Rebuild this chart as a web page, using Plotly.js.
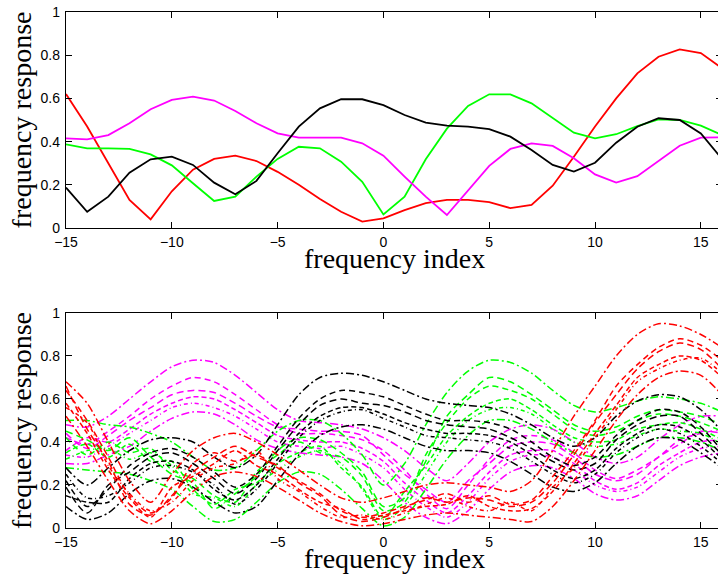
<!DOCTYPE html>
<html><head><meta charset="utf-8">
<script src="https://cdn.plot.ly/plotly-3.0.1.min.js"></script>
<style>html,body{margin:0;padding:0;overflow:hidden;background:#fff;}#chart{width:722px;height:577px;}</style>
</head><body><div id="chart"></div>
<script>
// frequency index
const freqIndex = [-15,-14,-13,-12,-11,-10,-9,-8,-7,-6,-5,-4,-3,-2,-1,0,1,2,3,4,5,6,7,8,9,10,11,12,13,14,15,16];
const tickVals = [-15,-10,-5,0,5,10,15];
const yTickVals = [0,0.2,0.4,0.6,0.8,1];
const yTickText = ["0","0.2","0.4","0.6","0.8","1"];
const xTitle = 'frequency index';
const yTitle = 'frequency response';

// top panel: true responses
const redTrue     = [0.62,0.47,0.30,0.13,0.04,0.17,0.27,0.32,0.335,0.31,0.26,0.20,0.134,0.075,0.03,0.045,0.083,0.115,0.13,0.13,0.12,0.092,0.107,0.196,0.33,0.47,0.60,0.716,0.793,0.827,0.81,0.74];
const greenTrue   = [0.387,0.369,0.369,0.366,0.341,0.29,0.207,0.125,0.145,0.238,0.32,0.376,0.369,0.307,0.214,0.063,0.145,0.318,0.46,0.565,0.619,0.619,0.577,0.508,0.441,0.415,0.434,0.472,0.503,0.5,0.474,0.43];
const magentaTrue = [0.415,0.41,0.43,0.485,0.55,0.593,0.608,0.59,0.542,0.485,0.438,0.418,0.418,0.418,0.392,0.335,0.238,0.145,0.06,0.176,0.288,0.366,0.392,0.38,0.323,0.248,0.21,0.24,0.312,0.381,0.418,0.42];
const blackTrue   = [0.187,0.075,0.145,0.256,0.318,0.33,0.292,0.21,0.156,0.218,0.346,0.469,0.554,0.596,0.596,0.569,0.523,0.488,0.474,0.469,0.458,0.423,0.361,0.292,0.261,0.302,0.395,0.469,0.508,0.5,0.438,0.32];

// bottom panel: estimated responses
const redEst1 = [0.68,0.58,0.40,0.22,0.12,0.25,0.36,0.42,0.44,0.40,0.34,0.27,0.20,0.14,0.12,0.14,0.17,0.20,0.21,0.20,0.19,0.17,0.22,0.36,0.52,0.66,0.80,0.90,0.95,0.94,0.90,0.84];
const redEst2 = [0.52,0.38,0.22,0.08,0.02,0.08,0.17,0.24,0.26,0.24,0.19,0.13,0.07,0.03,0.01,0.02,0.04,0.06,0.07,0.06,0.05,0.04,0.03,0.10,0.22,0.36,0.50,0.62,0.70,0.73,0.71,0.62];
const redEst3 = [0.64,0.50,0.33,0.15,0.07,0.14,0.30,0.35,0.31,0.34,0.28,0.22,0.16,0.08,0.05,0.07,0.10,0.13,0.16,0.12,0.15,0.11,0.13,0.24,0.36,0.50,0.66,0.76,0.84,0.88,0.85,0.78];
const redEst4 = [0.58,0.44,0.27,0.14,0.05,0.19,0.24,0.30,0.36,0.29,0.25,0.18,0.12,0.09,0.04,0.06,0.08,0.10,0.11,0.15,0.10,0.08,0.09,0.17,0.30,0.44,0.57,0.70,0.76,0.80,0.78,0.70];
const redEst5 = [0.66,0.46,0.31,0.11,0.06,0.15,0.26,0.33,0.38,0.33,0.29,0.21,0.15,0.06,0.03,0.05,0.09,0.14,0.12,0.14,0.13,0.10,0.12,0.21,0.34,0.49,0.62,0.74,0.82,0.86,0.83,0.74];
const redEst6 = [0.56,0.49,0.29,0.16,0.08,0.12,0.22,0.28,0.30,0.36,0.23,0.17,0.10,0.05,0.06,0.04,0.07,0.11,0.14,0.10,0.08,0.12,0.08,0.19,0.28,0.42,0.55,0.68,0.74,0.78,0.79,0.72];

const greenEst1 = [0.50,0.50,0.48,0.47,0.44,0.40,0.33,0.27,0.28,0.36,0.45,0.50,0.50,0.44,0.34,0.20,0.30,0.48,0.63,0.73,0.78,0.77,0.72,0.64,0.57,0.54,0.56,0.59,0.61,0.60,0.58,0.54];
const greenEst2 = [0.28,0.27,0.26,0.25,0.22,0.18,0.10,0.03,0.04,0.12,0.21,0.26,0.25,0.18,0.09,0.01,0.05,0.18,0.32,0.43,0.50,0.50,0.46,0.40,0.35,0.33,0.34,0.38,0.42,0.42,0.40,0.36];
const greenEst3 = [0.42,0.34,0.40,0.35,0.37,0.27,0.23,0.15,0.12,0.26,0.34,0.40,0.35,0.33,0.24,0.08,0.12,0.34,0.49,0.60,0.66,0.64,0.60,0.53,0.46,0.43,0.45,0.50,0.53,0.52,0.49,0.45];
const greenEst4 = [0.35,0.39,0.33,0.39,0.31,0.31,0.18,0.11,0.18,0.21,0.30,0.35,0.38,0.28,0.19,0.05,0.17,0.29,0.43,0.52,0.58,0.60,0.55,0.48,0.42,0.40,0.41,0.46,0.48,0.49,0.46,0.41];
const greenEst5 = [0.45,0.41,0.36,0.42,0.33,0.25,0.21,0.09,0.16,0.24,0.36,0.42,0.41,0.35,0.26,0.10,0.14,0.31,0.52,0.62,0.70,0.68,0.62,0.55,0.48,0.45,0.47,0.52,0.55,0.54,0.52,0.48];
const greenEst6 = [0.32,0.36,0.37,0.32,0.35,0.29,0.16,0.14,0.10,0.20,0.27,0.33,0.36,0.30,0.18,0.04,0.10,0.25,0.40,0.50,0.55,0.56,0.53,0.46,0.40,0.38,0.39,0.43,0.46,0.45,0.44,0.39];

const magentaEst1 = [0.48,0.47,0.52,0.60,0.68,0.75,0.78,0.77,0.71,0.63,0.55,0.50,0.49,0.48,0.46,0.42,0.36,0.28,0.22,0.30,0.40,0.46,0.48,0.46,0.40,0.33,0.30,0.33,0.41,0.48,0.52,0.52];
const magentaEst2 = [0.30,0.30,0.34,0.38,0.45,0.51,0.54,0.53,0.48,0.41,0.37,0.35,0.34,0.33,0.30,0.22,0.12,0.05,0.02,0.08,0.18,0.26,0.29,0.28,0.23,0.16,0.13,0.15,0.22,0.29,0.33,0.35];
const magentaEst3 = [0.42,0.39,0.45,0.52,0.60,0.66,0.70,0.68,0.62,0.55,0.48,0.44,0.44,0.43,0.41,0.36,0.27,0.16,0.09,0.20,0.32,0.41,0.43,0.41,0.35,0.27,0.23,0.27,0.33,0.41,0.44,0.46];
const magentaEst4 = [0.36,0.42,0.40,0.46,0.53,0.58,0.61,0.60,0.55,0.49,0.43,0.41,0.40,0.40,0.37,0.31,0.21,0.13,0.07,0.15,0.26,0.34,0.36,0.36,0.30,0.22,0.18,0.21,0.29,0.35,0.40,0.41];
const magentaEst5 = [0.44,0.37,0.43,0.50,0.56,0.62,0.64,0.63,0.58,0.52,0.47,0.46,0.45,0.45,0.43,0.34,0.25,0.18,0.12,0.22,0.30,0.38,0.40,0.39,0.33,0.25,0.22,0.25,0.33,0.39,0.45,0.44];
const magentaEst6 = [0.34,0.33,0.38,0.44,0.50,0.56,0.58,0.56,0.52,0.46,0.40,0.38,0.37,0.38,0.34,0.28,0.18,0.10,0.05,0.12,0.23,0.31,0.34,0.33,0.27,0.20,0.17,0.19,0.26,0.33,0.37,0.38];

const blackEst1 = [0.28,0.20,0.28,0.36,0.41,0.42,0.40,0.33,0.28,0.34,0.48,0.62,0.70,0.72,0.71,0.68,0.64,0.60,0.58,0.57,0.56,0.53,0.48,0.42,0.38,0.42,0.52,0.59,0.62,0.61,0.55,0.45];
const blackEst2 = [0.10,0.04,0.07,0.16,0.22,0.23,0.19,0.12,0.07,0.10,0.22,0.34,0.43,0.47,0.48,0.46,0.42,0.38,0.36,0.36,0.35,0.31,0.25,0.19,0.17,0.21,0.30,0.38,0.42,0.41,0.35,0.28];
const blackEst3 = [0.22,0.10,0.18,0.29,0.35,0.37,0.33,0.26,0.19,0.25,0.38,0.51,0.60,0.64,0.63,0.61,0.57,0.53,0.50,0.50,0.49,0.46,0.40,0.33,0.29,0.33,0.43,0.50,0.55,0.54,0.47,0.36];
const blackEst4 = [0.15,0.12,0.12,0.23,0.30,0.31,0.27,0.18,0.13,0.20,0.32,0.44,0.52,0.56,0.56,0.53,0.49,0.46,0.44,0.44,0.43,0.40,0.34,0.27,0.23,0.27,0.37,0.44,0.48,0.47,0.41,0.32];
const blackEst5 = [0.19,0.07,0.20,0.26,0.33,0.35,0.30,0.23,0.16,0.23,0.36,0.48,0.57,0.60,0.58,0.57,0.54,0.50,0.48,0.47,0.46,0.42,0.37,0.31,0.27,0.30,0.41,0.48,0.52,0.52,0.44,0.34];
const blackEst6 = [0.25,0.14,0.15,0.21,0.28,0.29,0.26,0.20,0.11,0.18,0.30,0.42,0.50,0.54,0.55,0.51,0.47,0.43,0.42,0.41,0.40,0.37,0.31,0.25,0.21,0.25,0.35,0.42,0.46,0.44,0.38,0.30];

const RED = '#ff0000', GREEN = '#00ff00', MAGENTA = '#ff00ff', BLACK = '#000000';

const traces = [];
function topLine(y, c) {
  traces.push({x: freqIndex, y: y, mode: 'lines', line: {color: c, width: 1.8}, xaxis: 'x', yaxis: 'y', showlegend: false, hoverinfo: 'skip'});
}
topLine(redTrue, RED); topLine(greenTrue, GREEN); topLine(magentaTrue, MAGENTA); topLine(blackTrue, BLACK);

const dashes = ['8px,3px,2px,3px', '8px,3px,2px,3px', '6px,4px', '5px,3px', '7px,4px', '4px,3px,1px,3px'];
function botGroup(list, c) {
  list.forEach((y, i) => {
    traces.push({x: freqIndex, y: y, mode: 'lines', line: {color: c, width: 1.5, dash: dashes[i], shape: 'spline', smoothing: 0.8}, xaxis: 'x2', yaxis: 'y2', showlegend: false, hoverinfo: 'skip'});
  });
}
botGroup([magentaEst1, magentaEst2, magentaEst3, magentaEst4, magentaEst5, magentaEst6], MAGENTA);
botGroup([greenEst1, greenEst2, greenEst3, greenEst4, greenEst5, greenEst6], GREEN);
botGroup([blackEst1, blackEst2, blackEst3, blackEst4, blackEst5, blackEst6], BLACK);
botGroup([redEst1, redEst2, redEst3, redEst4, redEst5, redEst6], RED);

const tickFont = {family: 'Liberation Sans, Arial, sans-serif', size: 14, color: '#000'};
const titleFont = {family: 'Liberation Serif, Times New Roman, serif', size: 28, color: '#000'};

function xAx(anchor) {
  return {anchor: anchor, range: [-15, 16], tickvals: tickVals, ticks: 'inside', ticklen: 6, tickcolor: '#000', tickwidth: 1,
    showline: true, linecolor: '#000', linewidth: 1.2, mirror: 'ticks', showgrid: false, zeroline: false,
    ticklabelstandoff: 1, tickfont: tickFont};
}
function yAx(anchor, dom) {
  return {anchor: anchor, domain: dom, range: [0, 1], tickvals: yTickVals, ticktext: yTickText, ticks: 'inside', ticklen: 6, tickcolor: '#000', tickwidth: 1,
    showline: true, linecolor: '#000', linewidth: 1.2, mirror: 'ticks', showgrid: false, zeroline: false,
    ticklabelstandoff: 2,
    tickfont: tickFont, title: {text: yTitle, font: titleFont, standoff: 0}};
}

function xTitleAnn(xref, yref) {
  return {text: xTitle, xref: xref + ' domain', yref: yref + ' domain', x: 0.5, y: 0, xanchor: 'center', yanchor: 'top',
    yshift: -13, showarrow: false, font: titleFont};
}

const layout = {
  width: 722, height: 577,
  margin: {l: 66, r: 0, t: 12, b: 49},
  paper_bgcolor: '#fff', plot_bgcolor: '#fff',
  xaxis: xAx('y'), yaxis: yAx('x', [0.5814, 1]),
  xaxis2: xAx('y2'), yaxis2: yAx('x2', [0, 0.4167]),
  annotations: [xTitleAnn('x', 'y'), xTitleAnn('x2', 'y2')],
  showlegend: false
};

Plotly.newPlot('chart', traces, layout, {staticPlot: true, displayModeBar: false});
</script>
</body></html>
